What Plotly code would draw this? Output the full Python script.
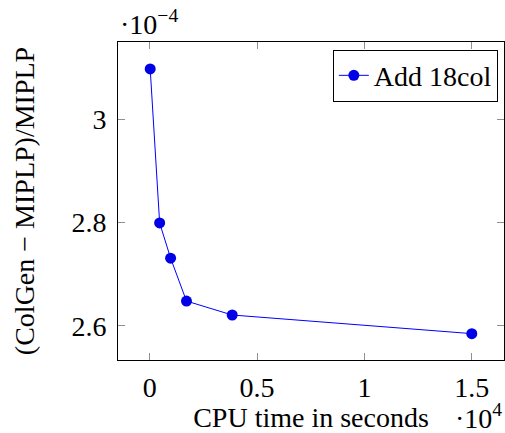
import plotly.graph_objects as go

# Data (CPU time in seconds, relative gap)
cpu_time = [20, 460, 970, 1710, 3840, 15000]
rel_gap = [3.097e-4, 2.799e-4, 2.731e-4, 2.648e-4, 2.621e-4, 2.585e-4]
series_name = "Add 18col"

x_tickvals = [0, 5000, 10000, 15000]
x_ticktext = ["0", "0.5", "1", "1.5"]
y_tickvals = [2.6e-4, 2.8e-4, 3.0e-4]
y_ticktext = ["2.6", "2.8", "3"]

FONT = "Liberation Serif"
FS = 28
fig = go.Figure()
fig.add_trace(go.Scatter(
    x=cpu_time, y=rel_gap, mode="lines+markers", name=series_name,
    line=dict(color="#0000ff", width=1),
    marker=dict(color="#0000e6", size=11, symbol="circle"),
))

axis_common = dict(
    showgrid=False, zeroline=False, showline=True, linecolor="black", linewidth=1,
    mirror="ticks", ticks="inside", ticklen=7, tickcolor="#909090", tickwidth=1,
    tickfont=dict(family=FONT, size=FS, color="black"),
)

fig.update_layout(
    width=505, height=433,
    margin=dict(l=118, r=1, t=42, b=73),
    paper_bgcolor="white", plot_bgcolor="white",
    font=dict(family=FONT, size=FS, color="black"),
    xaxis=dict(range=[-1480, 16500], tickvals=x_tickvals, ticktext=x_ticktext,
               title=dict(text="CPU time in seconds", standoff=4,
                          font=dict(family=FONT, size=FS)),
               ticklabelstandoff=2, **axis_common),
    yaxis=dict(range=[2.534e-4, 3.149e-4], tickvals=y_tickvals, ticktext=y_ticktext,
               title=dict(text="(ColGen − MIPLP)/MIPLP", standoff=28,
                          font=dict(family=FONT, size=FS)),
               ticklabelstandoff=5, **axis_common),
    legend=dict(x=0.984, y=0.976, xanchor="right", yanchor="top",
                bordercolor="black", borderwidth=1, bgcolor="white",
                font=dict(family=FONT, size=FS)),
    showlegend=True,
)
fig.add_annotation(text="·10<sup>−4</sup>", xref="paper", yref="paper", x=0, y=1,
                   xanchor="left", yanchor="bottom", showarrow=False, yshift=0,
                   font=dict(family=FONT, size=FS))
fig.add_annotation(text="·10<sup>4</sup>", xref="paper", yref="paper", x=1, y=0,
                   xanchor="right", yanchor="top", showarrow=False, yshift=-37, xshift=0,
                   font=dict(family=FONT, size=FS))
fig.write_html("out.html")
